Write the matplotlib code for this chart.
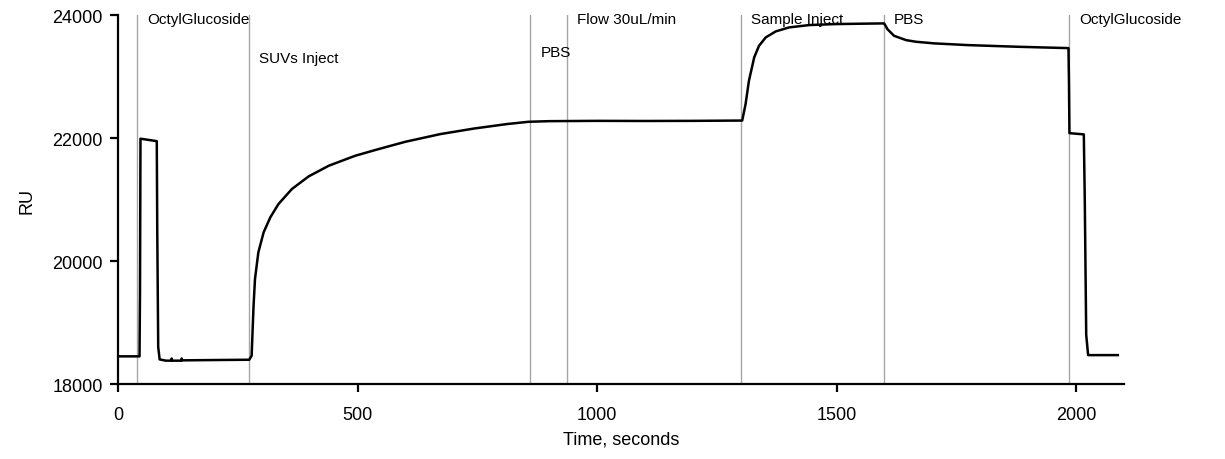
import matplotlib.pyplot as plt

plt.rcParams['font.family'] = ['Liberation Sans', 'DejaVu Sans']

# sensorgram trace (time in s, response in RU)
time = [0, 45, 46, 47, 81, 82, 84, 87, 100, 111, 112, 113, 132, 133, 134, 200, 274,
        279, 283, 286, 293, 304, 318, 335, 363, 398, 440, 495, 544, 600, 673, 743, 812, 857,
        900, 1000, 1100, 1200, 1303,
        1310, 1317, 1328, 1338, 1352, 1373, 1401, 1443, 1498, 1550, 1599,
        1602, 1606, 1620, 1645, 1666, 1704, 1774, 1878, 1984,
        1985, 1986, 2016, 2018, 2021, 2025, 2087]
ru = [18450, 18450, 19500, 21990, 21950, 20500, 18600, 18400, 18380, 18380, 18415, 18380, 18380, 18415, 18385, 18390, 18395,
      18460, 19273, 19707, 20141, 20466, 20711, 20927, 21171, 21377, 21550, 21712, 21821, 21940, 22065, 22155, 22228, 22265,
      22275, 22280, 22278, 22280, 22285,
      22553, 22932, 23312, 23500, 23637, 23735, 23800, 23838, 23854, 23860, 23865,
      23830, 23772, 23663, 23593, 23566, 23540, 23512, 23485, 23463,
      22900, 22080, 22060, 21000, 18800, 18470, 18470]

events = [40, 274, 861, 938, 1300, 1599, 1985]
event_labels = ['OctylGlucoside', 'SUVs Inject', 'PBS', 'Flow 30uL/min',
                'Sample Inject', 'PBS', 'OctylGlucoside']
label_y = [23870, 23236, 23333, 23870, 23870, 23870, 23870]

fig, ax = plt.subplots(figsize=(12.25, 4.6), dpi=100)
fig.subplots_adjust(left=0.0963, right=0.9176, bottom=0.163, top=0.965)

for t, lab, y in zip(events, event_labels, label_y):
    ax.axvline(t, color='#a6a6a6', lw=1.0, zorder=1)
    ax.text(t + 21, y, lab, fontsize=11, va='baseline', ha='left', color='black')

ax.plot(time, ru, color='black', lw=1.8, zorder=3)

ax.set_xlim(0, 2100)
ax.set_ylim(18000, 24000)
ax.set_xticks([0, 500, 1000, 1500, 2000])
ax.set_yticks([18000, 20000, 22000, 24000])

for s in ['top', 'right']:
    ax.spines[s].set_visible(False)
for s in ['left', 'bottom']:
    ax.spines[s].set_linewidth(1.6)

ax.tick_params(axis='both', direction='out', length=6, width=1.6, labelsize=13)
ax.tick_params(axis='x', pad=10)
ax.tick_params(axis='y', pad=5)

ax.set_xlabel('Time, seconds', fontsize=13, labelpad=5)
ax.set_ylabel('RU', fontsize=13, labelpad=12)

plt.savefig('out.png')
